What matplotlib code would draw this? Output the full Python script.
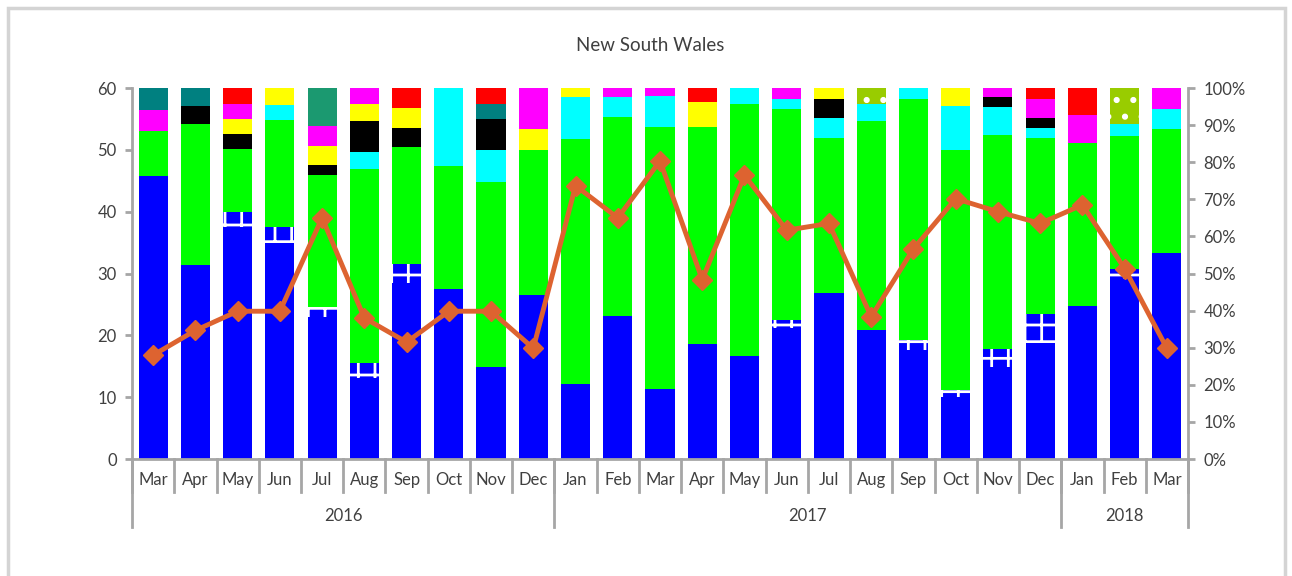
import numpy as np
import matplotlib
matplotlib.use('Agg')
import matplotlib.pyplot as plt
import matplotlib.transforms as mtransforms
from matplotlib.patches import Rectangle

plt.rcParams['font.family'] = ['Lato', 'DejaVu Sans']
plt.rcParams['hatch.linewidth'] = 2.0

# Month / year categories
months = ['Mar', 'Apr', 'May', 'Jun', 'Jul', 'Aug', 'Sep', 'Oct', 'Nov', 'Dec',
          'Jan', 'Feb', 'Mar', 'Apr', 'May', 'Jun', 'Jul', 'Aug', 'Sep', 'Oct', 'Nov', 'Dec',
          'Jan', 'Feb', 'Mar']
years = ['2016', '2017', '2018']
year_counts = [10, 12, 3]

# Stacked shares (% of total), bottom to top
blue = [76.3, 52.2, 62.6, 58.3, 38.4, 21.8, 47.4, 45.8, 24.7, 44.3,
        20.2, 38.5, 18.8, 31.0, 27.9, 35.2, 44.7, 34.7, 29.4, 16.6, 24.7, 31.3,
        41.3, 48.4, 55.4]
blue_hatch = [0, 0, 4.1, 4.2, 2.7, 4.0, 5.1, 0, 0, 0,
              0, 0, 0, 0, 0, 2.3, 0, 0, 2.7, 2.0, 4.9, 7.8,
              0, 2.8, 0]
green = [12.0, 38.2, 16.8, 29.0, 35.5, 52.3, 31.6, 33.2, 50.1, 39.0,
         66.0, 53.7, 70.8, 58.6, 67.7, 56.8, 41.9, 56.4, 64.9, 64.7, 57.7, 47.5,
         43.9, 35.9, 33.5]
cyan = [0, 0, 0, 4.0, 0, 4.6, 0, 21.0, 8.5, 0,
        11.3, 5.3, 8.3, 0, 4.4, 2.7, 5.2, 4.5, 3.0, 11.9, 7.5, 2.7,
        0, 3.3, 5.4]
black = [0, 4.7, 4.0, 0, 2.6, 8.4, 5.2, 0, 8.3, 0,
         0, 0, 0, 0, 0, 0, 5.3, 0, 0, 0, 2.7, 2.5,
         0, 0, 0]
yellow = [0, 0, 4.1, 4.4, 5.3, 4.5, 5.2, 0, 0, 5.6,
          2.5, 0, 0, 6.7, 0, 0, 2.9, 0, 0, 4.8, 0, 0,
          0, 0, 0]
magenta = [5.9, 0, 4.0, 0, 5.3, 4.4, 0, 0, 0, 11.1,
           0, 2.5, 2.1, 0, 0, 3.0, 0, 0, 0, 0, 2.7, 5.2,
           7.4, 0, 5.7]
teal = [5.9, 4.9, 0, 0, 0, 0, 0, 0, 4.0, 0,
        0, 0, 0, 0, 0, 0, 0, 0, 0, 0, 0, 0,
        0, 0, 0]
seagreen = [0, 0, 0, 0, 10.2, 0, 0, 0, 0, 0,
            0, 0, 0, 0, 0, 0, 0, 0, 0, 0, 0, 0,
            0, 0, 0]
olive = [0, 0, 0, 0, 0, 0, 0, 0, 0, 0,
         0, 0, 0, 0, 0, 0, 0, 4.4, 0, 0, 0, 0,
         0, 9.6, 0]
red = [0, 0, 4.4, 0, 0, 0, 5.5, 0, 4.4, 0,
       0, 0, 0, 3.7, 0, 0, 0, 0, 0, 0, 0, 3.0,
       7.4, 0, 0]

# Line on left axis
line_vals = [16.8, 20.8, 23.9, 23.9, 39.0, 22.8, 18.9, 23.9, 23.9, 17.9,
             44.2, 39.0, 48.2, 29.0, 45.9, 37.0, 38.1, 23.0, 34.0, 42.1, 40.0, 38.1,
             41.1, 30.8, 17.9]

series = [
    (blue, '#0000FF', None, None),
    (blue_hatch, '#0000FF', 'white', '+'),
    (green, '#00FF00', None, None),
    (cyan, '#00FFFF', None, None),
    (black, '#000000', None, None),
    (yellow, '#FFFF00', None, None),
    (magenta, '#FF00FF', None, None),
    (teal, '#008080', None, None),
    (seagreen, '#1B9970', None, None),
    (olive, '#99CC00', 'white', '.'),
    (red, '#FF0000', None, None),
]

text_col = '#404040'
axis_col = '#A6A6A6'

fig = plt.figure(figsize=(12.92, 5.76), dpi=100)
fig.patches.append(Rectangle((0.0065, -0.05), 0.988, 1.036, transform=fig.transFigure,
                             fill=False, edgecolor='#D4D4D4', linewidth=2.5))

ax = fig.add_axes([0.1022, 0.2031, 0.8173, 0.6441])
x = np.arange(len(months))
bottom = np.zeros(len(months))
for vals, col, hcol, hatch in series:
    vals = np.array(vals, dtype=float)
    if hatch:
        ax.bar(x, vals, 0.69, bottom=bottom, color=col, edgecolor=hcol, hatch=hatch, linewidth=0)
    else:
        ax.bar(x, vals, 0.69, bottom=bottom, color=col, linewidth=0)
    bottom += vals

ax.set_xlim(-0.5, len(months) - 0.5)
ax.set_ylim(0, 100)

ax2 = ax.twinx()
ax2.plot(x, line_vals, color='#DD6330', linewidth=3.5, marker='D', markersize=10)
ax2.set_ylim(0, 60)

# twinx resets the sides, so set them afterwards
ax.yaxis.tick_right()
ax.yaxis.set_label_position('right')
ax2.yaxis.tick_left()
ax2.yaxis.set_label_position('left')
ax.set_yticks(np.arange(0, 101, 10))
ax.set_yticklabels([f'{v}%' for v in range(0, 101, 10)])
ax2.set_yticks(np.arange(0, 61, 10))

for a in (ax, ax2):
    for s in a.spines.values():
        s.set_visible(False)
    a.tick_params(axis='y', colors=axis_col, labelcolor=text_col, labelsize=12,
                  length=5, width=2, pad=6)
    a.set_xticks([])

ax.spines['right'].set_visible(True)
ax.spines['right'].set_color(axis_col)
ax.spines['right'].set_linewidth(2)
ax2.spines['left'].set_visible(True)
ax2.spines['left'].set_color(axis_col)
ax2.spines['left'].set_linewidth(2)
ax.spines['bottom'].set_visible(True)
ax.spines['bottom'].set_color(axis_col)
ax.spines['bottom'].set_linewidth(2)

# multi-level category axis
trans = mtransforms.blended_transform_factory(ax.transData, ax.transAxes)
for i in range(len(months) + 1):
    ax.plot([i - 0.5, i - 0.5], [0, -0.089], transform=trans, color=axis_col,
            linewidth=2, clip_on=False)
for i, m in enumerate(months):
    ax.text(i, -0.057, m, transform=trans, ha='center', va='center',
            fontsize=12, color=text_col)
edges = np.concatenate([[0], np.cumsum(year_counts)]) - 0.5
for e in edges:
    ax.plot([e, e], [0, -0.183], transform=trans, color=axis_col,
            linewidth=2, clip_on=False)
for yr, lo, hi in zip(years, edges[:-1], edges[1:]):
    ax.text((lo + hi) / 2, -0.154, yr, transform=trans, ha='center', va='center',
            fontsize=12, color=text_col)

fig.text(0.503, 0.921, 'New South Wales', ha='center', va='center',
         fontsize=13.5, color=text_col)

fig.savefig('out.png', dpi=100)
